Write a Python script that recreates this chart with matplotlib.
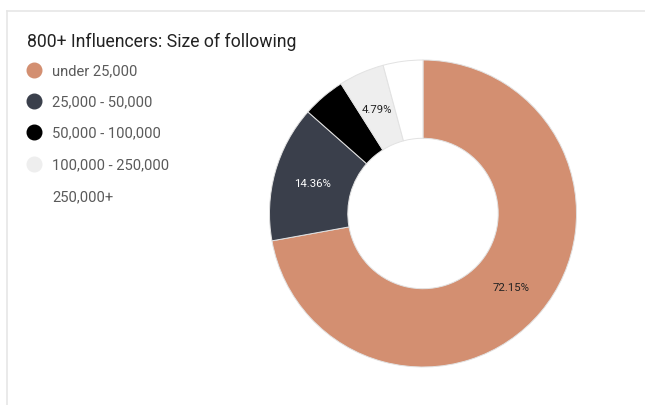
import matplotlib
matplotlib.use("Agg")
import matplotlib.pyplot as plt
import numpy as np

plt.rcParams['font.family'] = ['Roboto', 'DejaVu Sans']

title = "800+ Influencers: Size of following"
categories = ["under 25,000", "25,000 - 50,000", "50,000 - 100,000",
              "100,000 - 250,000", "250,000+"]
shares = [72.15, 14.36, 4.52, 4.79, 4.18]
slice_labels = ["72.15%", "14.36%", "", "4.79%", ""]
colors = ["#D38F71", "#3A3F4B", "#000000", "#EEEEEE", "#FFFFFF"]
label_colors = ["#222222", "#FFFFFF", "#FFFFFF", "#222222", "#222222"]

W, H = 645, 406
fig = plt.figure(figsize=(W / 100, H / 100), dpi=100)
fig.patch.set_facecolor("white")

# light frame lines along the top and left
frame = fig.add_axes([0, 0, 1, 1])
frame.set_xlim(0, W)
frame.set_ylim(H, 0)
frame.axis("off")
frame.plot([6.5, W], [11.5, 11.5], color="#E6E6E6", lw=1.2)
frame.plot([6.5, 6.5], [11.5, H], color="#E6E6E6", lw=1.2)

# donut
cx, cy, r = 423, 214.5, 153.5
ax = fig.add_axes([(cx - r) / W, (H - cy - r) / H, 2 * r / W, 2 * r / H])
hole = 0.49
wedges, _ = ax.pie(shares, colors=colors, startangle=90, counterclock=False,
                   radius=1.0,
                   wedgeprops=dict(width=1 - hole, edgecolor="#E2E2E2",
                                   linewidth=0.7))
ax.set_xlim(-1, 1)
ax.set_ylim(-1, 1)
ax.set_aspect("equal")
ax.axis("off")

mid_r = (1 + hole) / 2
for w, lab, lc in zip(wedges, slice_labels, label_colors):
    if not lab:
        continue
    ang = np.deg2rad((w.theta1 + w.theta2) / 2)
    ax.text(mid_r * np.cos(ang), mid_r * np.sin(ang), lab, ha="center",
            va="center", fontsize=8.2, color=lc)

# title and legend
frame.text(27, 42, title, fontsize=12.7, color="#222222", va="center",
           ha="left")
legend_y = [71, 102, 133, 165, 197]
for y, cat, col in zip(legend_y, categories, colors):
    frame.plot(34, y, marker="o", markersize=10.5, color=col,
               markeredgecolor=col, linestyle="none")
    frame.text(52, y, cat, fontsize=10.6, color="#5A5A5A", va="center",
               ha="left")

fig.savefig("out.png", dpi=100, facecolor="white")
